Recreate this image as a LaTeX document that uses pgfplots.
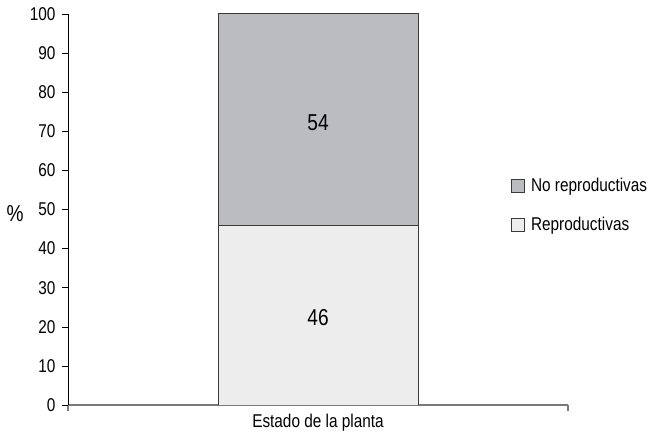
\documentclass[border=0pt]{standalone}
\usepackage{pgfplots}
\pgfplotsset{compat=1.18}
\usepackage{fontspec}
\setmainfont[FakeStretch=0.83]{Liberation Sans}
\definecolor{topfill}{HTML}{BBBCC0}
\definecolor{botfill}{HTML}{EDEDED}
\definecolor{edge}{HTML}{3A3A3A}
\definecolor{xaxisgray}{HTML}{7A7A7A}
\begin{document}
\begin{tikzpicture}[x=1bp,y=1bp]
\useasboundingbox (-68bp,-31bp) rectangle (586bp,405bp);
\begin{axis}[
  at={(0,0)}, anchor=south west,
  scale only axis,
  width=500bp, height=391bp,
  xmin=0, xmax=1, ymin=0, ymax=100,
  axis x line=bottom, axis y line=left,
  axis line style={-},
  x axis line style={xaxisgray, line width=1.2pt},
  y axis line style={black, line width=0.8pt},
  xtick={0,1}, xticklabels={},
  x tick style={xaxisgray, line width=1.2pt},
  ytick={0,10,...,100},
  y tick style={black, line width=0.6pt},
  tick align=outside,
  major tick length=6bp,
  /pgf/number format/assume math mode=true,
  tick label style={font=\fontsize{18.5bp}{20bp}\selectfont},
  yticklabel style={xshift=-3bp},
  xlabel={Estado de la planta},
  xlabel style={font=\fontsize{18.5bp}{20bp}\selectfont, at={(0.5,0)}, anchor=north, yshift=-6bp},
  ylabel={\%},
  ylabel style={font=\fontsize{23bp}{25bp}\selectfont, rotate=-90, at={(rel axis cs:0,0.49)}, anchor=center, xshift=-53bp},
  ybar stacked,
  bar width=0.4,
  visualization depends on=rawy \as \rawy,
  nodes near coords={\pgfmathprintnumber{\rawy}},
  every node near coord/.append style={font=\fontsize{23bp}{25bp}\selectfont, anchor=center, yshift=-3bp},
  legend style={draw=none, fill=none, at={(rel axis cs:0.880,0.59)}, anchor=north west,
    font=\fontsize{18.5bp}{20bp}\selectfont, row sep=20bp, legend cell align=left},
  reverse legend,
  legend image code/.code={\draw[#1, line width=0.8pt] (0bp,-6.5bp) rectangle (13bp,6.5bp); \path (17bp,0bp);},
]
\addplot[fill=botfill, draw=edge, line width=1pt] coordinates {(0.5,46)};
\addlegendentry{Reproductivas}
\addplot[fill=topfill, draw=edge, line width=1pt] coordinates {(0.5,54)};
\addlegendentry{No reproductivas}
\end{axis}
\end{tikzpicture}
\end{document}
